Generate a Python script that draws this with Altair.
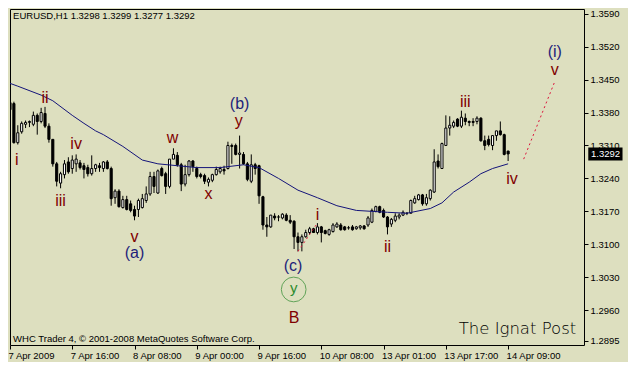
import altair as alt
import pandas as pd

# ---- candle data (EURUSD H1, bar index 0 = 7 Apr 2009 00:00) ----
opens = [1.3401,1.3399,1.3316,1.3339,1.3355,1.3359,1.3355,1.3374,1.3361,1.3378,
         1.3351,1.3323,1.3271,1.3230,1.3248,1.3275,1.3261,1.3271,1.3273,1.3267,
         1.3263,1.3250,1.3261,1.3267,1.3261,1.3275,1.3261,1.3199,1.3213,1.3178,
         1.3195,1.3186,1.3174,1.3174,1.3178,1.3193,1.3207,1.3244,1.3209,1.3261,
         1.3250,1.3223,1.3281,1.3289,1.3269,1.3228,1.3248,1.3277,1.3261,1.3248,
         1.3246,1.3232,1.3236,1.3248,1.3254,1.3259,1.3261,1.3310,1.3310,1.3291,
         1.3291,1.3271,1.3234,1.3269,1.3267,1.3201,1.3141,1.3137,1.3160,1.3158,
         1.3156,1.3162,1.3151,1.3149,1.3116,1.3104,1.3116,1.3125,1.3133,1.3125,
         1.3137,1.3129,1.3121,1.3127,1.3137,1.3141,1.3137,1.3135,1.3137,1.3133,
         1.3135,1.3139,1.3141,1.3147,1.3170,1.3180,1.3172,1.3158,1.3143,1.3151,
         1.3158,1.3162,1.3166,1.3166,1.3188,1.3195,1.3205,1.3186,1.3197,1.3211,
         1.3277,1.3261,1.3310,1.3347,1.3351,1.3366,1.3351,1.3368,1.3361,1.3361,
         1.3361,1.3368,1.3320,1.3323,1.3310,1.3331,1.3341,1.3333,1.3298]
highs = [1.3405,1.3403,1.3353,1.3361,1.3363,1.3363,1.3382,1.3378,1.3390,1.3392,
         1.3357,1.3323,1.3275,1.3254,1.3279,1.3285,1.3289,1.3291,1.3279,1.3273,
         1.3269,1.3289,1.3271,1.3273,1.3277,1.3279,1.3265,1.3217,1.3217,1.3203,
         1.3203,1.3193,1.3182,1.3197,1.3207,1.3223,1.3254,1.3254,1.3259,1.3265,
         1.3254,1.3281,1.3304,1.3296,1.3273,1.3269,1.3279,1.3279,1.3265,1.3252,
         1.3250,1.3242,1.3250,1.3265,1.3265,1.3267,1.3318,1.3314,1.3314,1.3331,
         1.3296,1.3275,1.3291,1.3273,1.3269,1.3203,1.3158,1.3162,1.3166,1.3162,
         1.3166,1.3166,1.3162,1.3151,1.3125,1.3121,1.3131,1.3137,1.3135,1.3145,
         1.3139,1.3131,1.3133,1.3145,1.3147,1.3145,1.3139,1.3139,1.3141,1.3139,
         1.3141,1.3141,1.3160,1.3176,1.3182,1.3182,1.3176,1.3160,1.3156,1.3166,
         1.3166,1.3172,1.3168,1.3195,1.3203,1.3207,1.3207,1.3207,1.3217,1.3302,
         1.3291,1.3316,1.3374,1.3372,1.3363,1.3368,1.3384,1.3378,1.3363,1.3368,
         1.3372,1.3370,1.3331,1.3331,1.3331,1.3341,1.3361,1.3335,1.3299]
lows = [1.3382,1.3314,1.3312,1.3335,1.3347,1.3349,1.3351,1.3333,1.3357,1.3347,
        1.3316,1.3265,1.3223,1.3219,1.3240,1.3250,1.3250,1.3254,1.3259,1.3240,
        1.3244,1.3246,1.3254,1.3254,1.3254,1.3259,1.3182,1.3186,1.3178,1.3176,
        1.3172,1.3168,1.3151,1.3158,1.3176,1.3188,1.3203,1.3209,1.3207,1.3244,
        1.3207,1.3219,1.3281,1.3265,1.3213,1.3223,1.3244,1.3254,1.3240,1.3240,
        1.3228,1.3223,1.3232,1.3246,1.3250,1.3248,1.3259,1.3271,1.3289,1.3261,
        1.3269,1.3234,1.3230,1.3248,1.3186,1.3131,1.3116,1.3135,1.3151,1.3149,
        1.3153,1.3149,1.3143,1.3090,1.3085,1.3085,1.3114,1.3121,1.3125,1.3121,
        1.3104,1.3121,1.3118,1.3125,1.3135,1.3129,1.3129,1.3131,1.3129,1.3131,
        1.3131,1.3131,1.3137,1.3145,1.3168,1.3166,1.3156,1.3121,1.3137,1.3147,
        1.3153,1.3160,1.3162,1.3166,1.3186,1.3193,1.3182,1.3182,1.3193,1.3209,
        1.3261,1.3261,1.3310,1.3331,1.3347,1.3349,1.3347,1.3353,1.3351,1.3351,
        1.3355,1.3318,1.3300,1.3308,1.3300,1.3320,1.3331,1.3289,1.3277]
closes = [1.3386,1.3316,1.3337,1.3357,1.3359,1.3361,1.3374,1.3361,1.3380,1.3351,
          1.3323,1.3271,1.3234,1.3250,1.3271,1.3254,1.3279,1.3281,1.3263,1.3259,
          1.3250,1.3261,1.3269,1.3263,1.3275,1.3261,1.3197,1.3213,1.3180,1.3195,
          1.3174,1.3172,1.3160,1.3193,1.3197,1.3207,1.3244,1.3223,1.3256,1.3246,
          1.3223,1.3281,1.3291,1.3269,1.3228,1.3248,1.3277,1.3265,1.3244,1.3244,
          1.3234,1.3238,1.3248,1.3259,1.3261,1.3256,1.3310,1.3308,1.3291,1.3294,
          1.3271,1.3238,1.3269,1.3261,1.3203,1.3141,1.3137,1.3162,1.3156,1.3158,
          1.3164,1.3151,1.3147,1.3116,1.3104,1.3116,1.3125,1.3133,1.3125,1.3137,
          1.3125,1.3123,1.3131,1.3141,1.3143,1.3131,1.3131,1.3135,1.3131,1.3137,
          1.3139,1.3133,1.3156,1.3172,1.3180,1.3168,1.3158,1.3137,1.3153,1.3160,
          1.3162,1.3168,1.3166,1.3193,1.3197,1.3205,1.3186,1.3199,1.3215,1.3275,
          1.3265,1.3314,1.3347,1.3353,1.3359,1.3351,1.3370,1.3361,1.3359,1.3359,
          1.3368,1.3320,1.3310,1.3312,1.3331,1.3341,1.3333,1.3291,1.3292]

# ---- moving average (read at selected bars) ----
ma_idx = [0, 2, 8, 11, 16, 19, 22, 24, 29, 34, 38, 43, 48, 54, 60, 64, 69, 74,
          79, 84, 89, 97, 102, 108, 111, 114, 118, 121, 124, 128]
ma_val = [1.3442, 1.3436, 1.3417, 1.3405, 1.3374, 1.3357, 1.3341, 1.3333, 1.3308,
          1.3279, 1.3271, 1.3267, 1.3263, 1.3263, 1.3269, 1.3263, 1.3240, 1.3215,
          1.3199, 1.3182, 1.3172, 1.3168, 1.3166, 1.3176, 1.3188, 1.3211, 1.3232,
          1.3250, 1.3261, 1.3271]

# ---- axes ----
x_tick_idx = [0, 16, 32, 48, 64, 80, 96, 112, 128]
x_tick_lbl = ["7 Apr 2009", "7 Apr 16:00", "8 Apr 08:00", "9 Apr 00:00",
              "9 Apr 16:00", "10 Apr 08:00", "13 Apr 01:00", "13 Apr 17:00",
              "14 Apr 09:00"]
y_ticks = [1.3590, 1.3520, 1.3450, 1.3380, 1.3310, 1.3240, 1.3170, 1.3100,
           1.3030, 1.2960, 1.2895]

# ---- Elliott wave labels ----
wave_text = ["i", "ii", "iii", "iv", "v", "(a)", "w", "x", "(b)", "y", "(c)", "B",
             "i", "ii", "iii", "iv", "v", "(i)"]
wave_x = [1.75, 9, 13, 17, 32, 32, 41.75, 51, 59, 58.75, 72.75, 73,
          79, 97, 117, 129, 140, 140]
wave_y = [1.3269, 1.3401, 1.3182, 1.3302, 1.3104, 1.3070, 1.3316, 1.3197, 1.3388,
          1.3351, 1.3044, 1.2933, 1.3151, 1.3083, 1.3392, 1.3228, 1.3460, 1.3498]
wave_kind = ["minor", "minor", "minor", "minor", "minor", "major", "minor", "minor",
             "major", "minor", "major", "minor", "minor", "minor", "minor", "minor",
             "minor", "major"]

# projection / guide lines
proj_x = [132, 140]
proj_y = [1.3281, 1.3446]
guide_x = [74, 79]
guide_y = [1.3085, 1.3145]

last_price = 1.3292

BG = "#DDDFBF"
RED = "#800000"
NAVY = "#1E1E7A"

xs = alt.Scale(domain=[0, 147.5], zero=False, nice=False)
ys = alt.Scale(domain=[1.2886, 1.3600], zero=False, nice=False)

label_arr = "[" + ",".join("'%s'" % s for s in x_tick_lbl) + "]"
xaxis = alt.Axis(values=x_tick_idx, labelExpr=label_arr + "[round(datum.value/16)]",
                 title=None, grid=False, domain=False, tickSize=4, tickColor="black",
                 labelAlign="left", labelOffset=-2, labelPadding=1, labelFontSize=9.5,
                 labelFont="Liberation Sans", labelColor="black", labelFlush=False,
                 labelOverlap=False)
yaxis = alt.Axis(values=y_ticks, format=".4f", orient="right", title=None, grid=False,
                 domain=False, tickSize=4, tickColor="black", labelPadding=2,
                 labelFontSize=9.5, labelFont="Liberation Sans", labelColor="black",
                 labelOverlap=False, labelFlush=False)

df = pd.DataFrame({"i": list(range(len(opens))), "open": opens, "high": highs,
                   "low": lows, "close": closes})
base = alt.Chart(df).transform_calculate(x0="datum.i - 0.27", x1="datum.i + 0.27")

wick = base.mark_rule(color="black", strokeWidth=1, clip=True).encode(
    x=alt.X("i:Q", scale=xs, axis=xaxis),
    y=alt.Y("low:Q", scale=ys, axis=yaxis),
    y2="high:Q",
)
body = base.mark_rect(stroke="black", strokeWidth=1, clip=True).encode(
    x=alt.X("x0:Q", scale=xs, axis=xaxis),
    x2="x1:Q",
    y=alt.Y("open:Q", scale=ys, axis=yaxis),
    y2="close:Q",
    fill=alt.condition("datum.close > datum.open", alt.value("white"), alt.value("black")),
)

def pos(ch):
    return ch.encode(x=alt.X("i:Q", scale=xs, axis=xaxis),
                     y=alt.Y("v:Q", scale=ys, axis=yaxis))

ma = pos(alt.Chart(pd.DataFrame({"i": ma_idx, "v": ma_val})).mark_line(
    color="#14147A", strokeWidth=1, clip=True))

proj = pos(alt.Chart(pd.DataFrame({"i": proj_x, "v": proj_y})).mark_line(
    color="#DC143C", strokeWidth=1, strokeDash=[2, 3]))
guide = pos(alt.Chart(pd.DataFrame({"i": guide_x, "v": guide_y})).mark_line(
    color="#DC143C", strokeWidth=1, strokeDash=[2, 3]))

wdf = pd.DataFrame({"t": wave_text, "i": wave_x, "v": wave_y, "k": wave_kind})
waves = pos(alt.Chart(wdf).mark_text(font="Liberation Sans", fontSize=16,
                                     baseline="alphabetic", align="center")).encode(
    text="t:N",
    color=alt.Color("k:N", scale=alt.Scale(domain=["minor", "major"], range=[RED, NAVY]),
                    legend=None),
)

circ = pos(alt.Chart(pd.DataFrame({"i": [72.9], "v": [1.3004]})).mark_point(
    shape="circle", size=610, filled=False, color="#2E8B2E", strokeWidth=1))
circ_t = pos(alt.Chart(pd.DataFrame({"i": [72.9], "v": [1.2997], "t": ["y"]})).mark_text(
    font="Liberation Sans", fontSize=15, color="#2E8B2E", baseline="alphabetic")).encode(
    text="t:N")

# current price box on the price axis
box = alt.Chart(pd.DataFrame({"a": [148.6], "b": [157.4], "lo": [last_price - 0.00138],
                              "hi": [last_price + 0.00138]})).mark_rect(color="black").encode(
    x=alt.X("a:Q", scale=xs, axis=xaxis), x2="b:Q",
    y=alt.Y("lo:Q", scale=ys, axis=yaxis), y2="hi:Q")
box_t = pos(alt.Chart(pd.DataFrame({"i": [149.3], "v": [last_price],
                                    "t": ["%.4f" % last_price]})).mark_text(
    font="Liberation Sans", fontSize=9.5, color="white", align="left",
    baseline="middle")).encode(text="t:N")

head = pos(alt.Chart(pd.DataFrame({"i": [0.8], "v": [1.3596],
                                   "t": ["EURUSD,H1  %.4f %.4f %.4f %.4f" % (opens[-1], highs[-1], lows[-1], closes[-1])]})).mark_text(
    font="Liberation Sans", fontSize=9.5, color="black", align="left", baseline="top")).encode(
    text="t:N")
foot = pos(alt.Chart(pd.DataFrame({"i": [0.8], "v": [1.2889],
                                   "t": ["WHC Trader 4, \u00a9 2001-2008 MetaQuotes Software Corp."]})).mark_text(
    font="Liberation Sans", fontSize=9.5, color="black", align="left", baseline="bottom")).encode(
    text="t:N")
brand = pos(alt.Chart(pd.DataFrame({"i": [145.5], "v": [1.2909], "t": ["The Ignat Post"]})).mark_text(
    font="DejaVu Sans", fontSize=16.5, fontWeight=200, color="black", align="right",
    baseline="alphabetic")).encode(text="t:N")

chart = alt.layer(wick, body, ma, proj, guide, waves, circ, circ_t, box, box_t,
                  head, foot, brand).properties(
    width=620, height=354, background=BG,
    padding={"left": 0, "top": 0, "right": 2, "bottom": 2},
    autosize=alt.AutoSizeParams(type="fit", contains="padding"),
).configure_view(stroke="black", strokeWidth=1).configure_axis(labelOverlap=False)

chart.save("out.html", embed_options={"renderer": "svg", "actions": False})
